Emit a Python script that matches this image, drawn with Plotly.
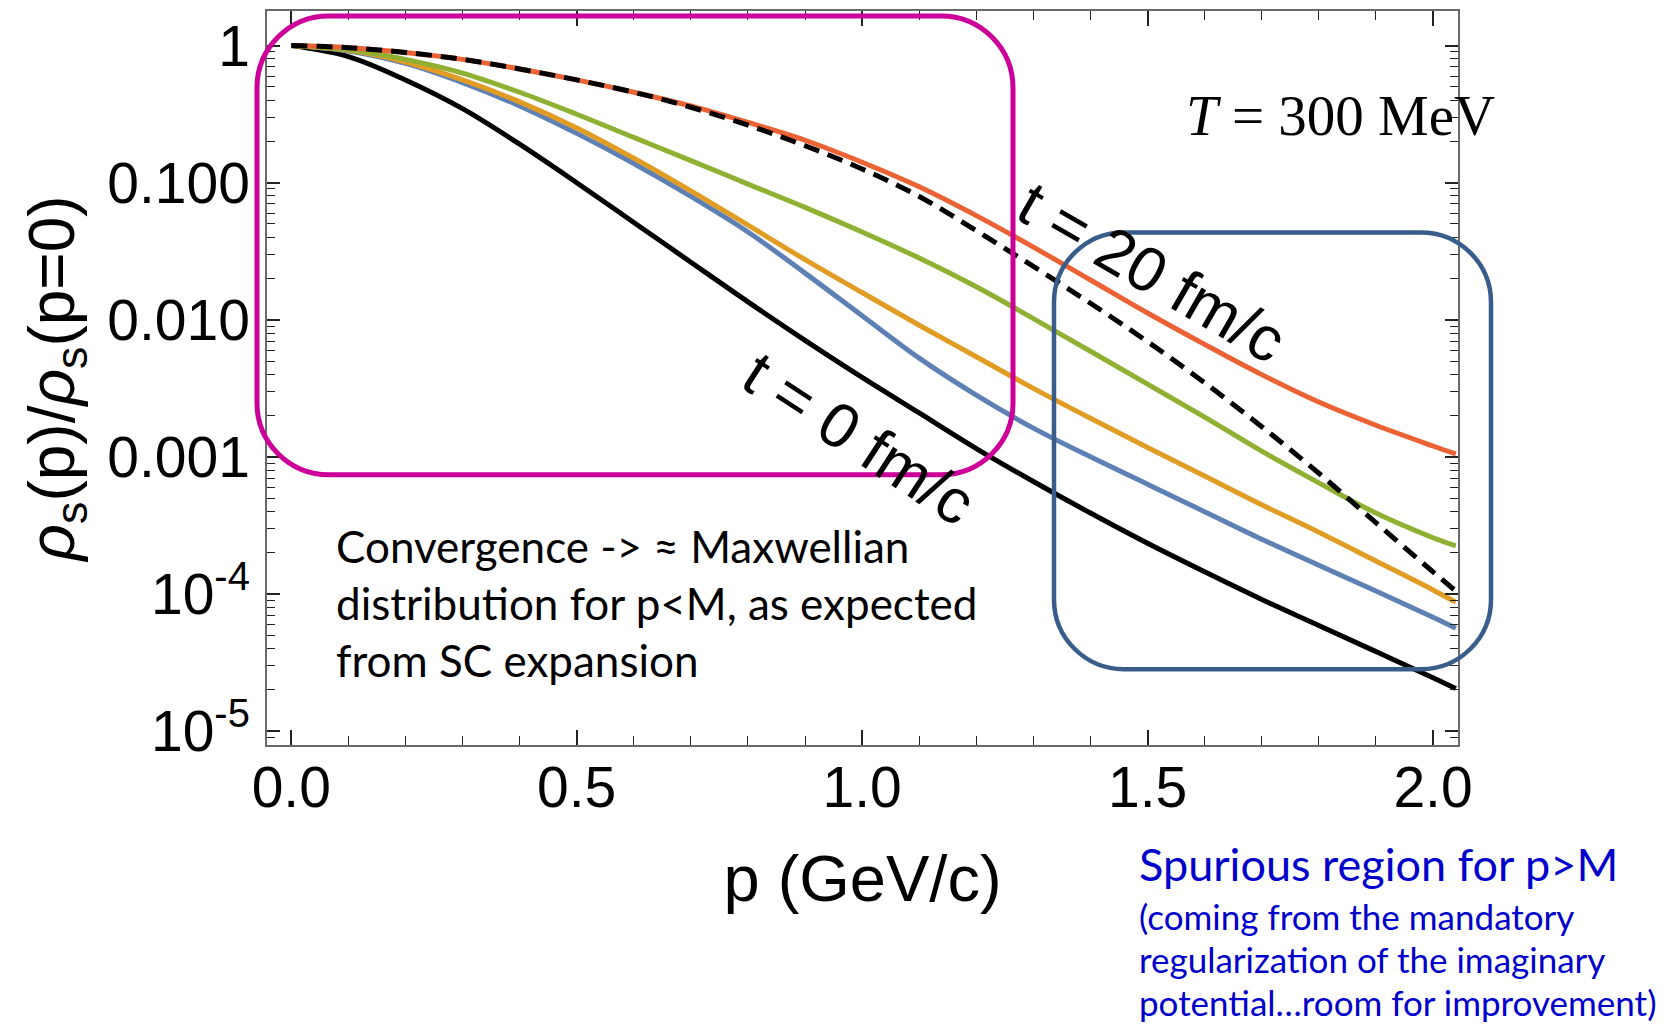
import plotly.graph_objects as go

# ---------------- data ----------------
p = [0.0, 0.1, 0.2, 0.3, 0.4, 0.5, 0.6, 0.7, 0.8, 0.9, 1.0,
     1.1, 1.2, 1.3, 1.4, 1.5, 1.6, 1.7, 1.8, 1.9, 2.0, 2.04]

rho_t0 = [1, 0.832, 0.562, 0.347, 0.191, 0.1, 0.0513, 0.0263, 0.0135, 0.00708, 0.00380,
          0.00209, 0.00115, 6.61e-4, 3.89e-4, 2.34e-4, 1.45e-4, 9.12e-5, 5.89e-5, 3.80e-5, 2.45e-5, 2.04e-5]
rho_blue = [1, 0.912, 0.741, 0.537, 0.363, 0.229, 0.138, 0.0794, 0.0437, 0.0219, 0.0107,
            0.00525, 0.00282, 0.00162, 1.00e-3, 6.31e-4, 3.98e-4, 2.51e-4, 1.62e-4, 1.05e-4, 6.76e-5, 5.62e-5]
rho_orange = [1, 0.923, 0.759, 0.562, 0.389, 0.251, 0.151, 0.0871, 0.0490, 0.0275, 0.0158,
              0.00912, 0.00537, 0.00316, 0.00191, 0.00117, 7.24e-4, 4.47e-4, 2.82e-4, 1.74e-4, 1.07e-4, 8.71e-5]
rho_green = [1, 0.933, 0.794, 0.631, 0.457, 0.316, 0.214, 0.145, 0.0977, 0.0661, 0.0437,
             0.0282, 0.0174, 0.0102, 0.00589, 0.00339, 0.00195, 0.00110, 6.46e-4, 3.89e-4, 2.57e-4, 2.24e-4]
rho_t20 = [1, 0.966, 0.891, 0.794, 0.676, 0.562, 0.457, 0.363, 0.275, 0.204, 0.141,
           0.0933, 0.0575, 0.0339, 0.0195, 0.0112, 0.00661, 0.00398, 0.00251, 0.00170, 0.00120, 0.00105]
rho_maxwell = [1, 0.966, 0.891, 0.794, 0.676, 0.562, 0.457, 0.355, 0.263, 0.186, 0.126,
               0.0794, 0.0447, 0.0245, 0.0132, 0.00692, 0.00347, 0.00166, 7.59e-4, 3.31e-4, 1.45e-4, 1.05e-4]

x_tickvals = [0.0, 0.5, 1.0, 1.5, 2.0]
x_ticktext = ["0.0", "0.5", "1.0", "1.5", "2.0"]
x_minor = [0.1, 0.2, 0.3, 0.4, 0.6, 0.7, 0.8, 0.9, 1.1, 1.2, 1.3, 1.4, 1.6, 1.7, 1.8, 1.9]
y_tickvals = [1e-5, 1e-4, 1e-3, 1e-2, 1e-1, 1]
y_ticktext = ["10<sup>-5</sup>", "10<sup>-4</sup>", "0.001", "0.010", "0.100", "1"]
y_minor = [m * 10.0 ** k for k in range(-6, 1) for m in range(2, 10)]

# ---------------- layout geometry (pixels) ----------------
W, H = 1668, 1026
PL, PR, PT, PB = 267, 1458, 9, 745


def fx(px):
    return (px - PL) / (PR - PL)


def fy(py):
    return (PB - py) / (PB - PT)


def rrect(x0, y0, x1, y1, r):
    k = 0.5523 * r
    pts = [
        ("M", [(x0 + r, y0)]),
        ("L", [(x1 - r, y0)]),
        ("C", [(x1 - r + k, y0), (x1, y0 + r - k), (x1, y0 + r)]),
        ("L", [(x1, y1 - r)]),
        ("C", [(x1, y1 - r + k), (x1 - r + k, y1), (x1 - r, y1)]),
        ("L", [(x0 + r, y1)]),
        ("C", [(x0 + r - k, y1), (x0, y1 - r + k), (x0, y1 - r)]),
        ("L", [(x0, y0 + r)]),
        ("C", [(x0, y0 + r - k), (x0 + r - k, y0), (x0 + r, y0)]),
    ]
    s = ""
    for cmd, ps in pts:
        s += cmd + " " + " ".join(f"{fx(a):.5f},{fy(b):.5f}" for a, b in ps) + " "
    return s + "Z"


fig = go.Figure()

series = [
    (rho_t0, "#000000", "solid"),
    (rho_blue, "#5E81B5", "solid"),
    (rho_orange, "#E19C24", "solid"),
    (rho_green, "#8FB032", "solid"),
    (rho_t20, "#EB6235", "solid"),
    (rho_maxwell, "#000000", "16px,9px"),
]
for ys, col, dash in series:
    fig.add_trace(go.Scatter(x=p, y=ys, mode="lines",
                             line=dict(color=col, width=5, dash=dash, shape="spline", smoothing=1.0),
                             showlegend=False, hoverinfo="skip"))

sans = "Liberation Sans, Arial, sans-serif"
axis_font = dict(family=sans, size=57, color="#000000")

fig.update_layout(
    width=W, height=H,
    margin=dict(l=PL, r=W - PR, t=PT, b=H - PB),
    paper_bgcolor="white", plot_bgcolor="white",
    showlegend=False,
    xaxis=dict(
        range=[-0.0425, 2.0438], showgrid=False, zeroline=False,
        showline=True, linecolor="#6a6a6a", linewidth=1.5, mirror="ticks",
        ticks="inside", ticklen=15, tickwidth=1.5, tickcolor="#222222",
        tickmode="array", tickvals=x_tickvals, ticktext=x_ticktext,
        tickfont=axis_font, ticklabelstandoff=-8,
        minor=dict(tickmode="array", tickvals=x_minor, ticks="inside", ticklen=9,
                   tickwidth=1.3, tickcolor="#222222", showgrid=False),
        title=dict(text="p (GeV/c)", font=dict(family=sans, size=65, color="#000"),
                   standoff=37),
    ),
    yaxis=dict(
        type="log", range=[-5.102, 0.2525], showgrid=False, zeroline=False,
        showline=True, linecolor="#6a6a6a", linewidth=1.5, mirror="ticks",
        ticks="inside", ticklen=13, tickwidth=1.5, tickcolor="#222222",
        tickmode="array", tickvals=y_tickvals, ticktext=y_ticktext,
        tickfont=axis_font, ticklabelstandoff=4,
        minor=dict(tickmode="array", tickvals=y_minor, ticks="inside", ticklen=8,
                   tickwidth=1.3, tickcolor="#222222", showgrid=False),
        title=dict(text="<i>ρ</i><sub>s</sub>(p)/<i>ρ</i><sub>s</sub>(p=0)",
                   font=dict(family=sans, size=64, color="#000"),
                   standoff=12),
    ),
)

# rounded boxes
fig.add_shape(type="path", xref="paper", yref="paper", layer="above",
              path=rrect(257, 14, 1013, 474, 72),
              line=dict(color="#CC0099", width=5))
fig.add_shape(type="path", xref="paper", yref="paper", layer="above",
              path=rrect(1054, 231, 1491, 669, 70),
              line=dict(color="#385D8A", width=4.5))

# annotations
fig.add_annotation(x=fx(1340), y=fy(114), xref="paper", yref="paper", showarrow=False,
                   text="<i>T</i> = 300 MeV", xanchor="center", yanchor="middle",
                   font=dict(family="Liberation Serif, Times New Roman, serif", size=57, color="#000"))
fig.add_annotation(x=fx(1152), y=fy(271), xref="paper", yref="paper", showarrow=False,
                   text="t = 20 fm/c", textangle=30, xanchor="center", yanchor="middle",
                   font=dict(family=sans, size=63, color="#000"))
fig.add_annotation(x=fx(859), y=fy(437), xref="paper", yref="paper", showarrow=False,
                   text="t = 0 fm/c", textangle=33, xanchor="center", yanchor="middle",
                   font=dict(family=sans, size=63, color="#000"))

txt = "Lato, Open Sans, sans-serif"
fig.add_annotation(x=fx(334), y=fy(517), xref="paper", yref="paper", showarrow=False,
                   text="Convergence -> ≈ Maxwellian<br>distribution for p&lt;M, as expected<br>from SC expansion",
                   xanchor="left", yanchor="top", align="left",
                   font=dict(family=txt, size=44, color="#000"))

blue_lines = [
    ("Spurious region for p&gt;M", 864, 45),
    ("(coming from the mandatory", 916, 35),
    ("regularization of the imaginary", 960, 35),
    ("potential…room for improvement)", 1003, 35),
]
for t, yc, sz in blue_lines:
    fig.add_annotation(x=fx(1137), y=fy(yc), xref="paper", yref="paper", showarrow=False,
                       text=t, xanchor="left", yanchor="middle", align="left",
                       font=dict(family=txt, size=sz, color="#0000CC"))

fig.write_html("out.html")
